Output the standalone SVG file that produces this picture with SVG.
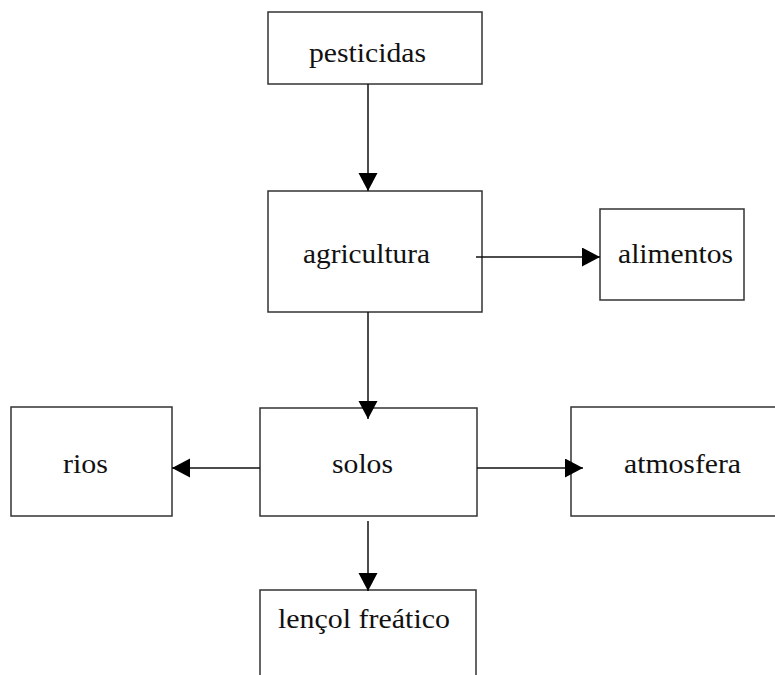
<svg xmlns="http://www.w3.org/2000/svg" width="775" height="675" viewBox="0 0 775 675">
  <style>
    .box { fill: #ffffff; stroke: #333333; stroke-width: 1.5; }
    .lbl { font-family: "Liberation Serif", "Times New Roman", serif; font-size: 28px; fill: #111111; }
    .edge { stroke: #111111; stroke-width: 1.5; fill: none; marker-end: url(#head); }
  </style>
  <defs>
    <marker id="head" markerUnits="userSpaceOnUse" markerWidth="19" markerHeight="20" refX="18" refY="9.5" orient="auto">
      <path d="M0,0 L18,9.5 L0,19 z" fill="#000000"/>
    </marker>
  </defs>
  <rect width="775" height="675" fill="#ffffff"/>

  <g id="pesticidas">
    <rect class="box" x="268" y="12" width="214" height="72"/>
    <text class="lbl" x="309" y="62" textLength="117" lengthAdjust="spacingAndGlyphs">pesticidas</text>
  </g>
  <g id="agricultura">
    <rect class="box" x="268" y="191" width="214" height="121"/>
    <text class="lbl" x="303" y="263" textLength="127" lengthAdjust="spacingAndGlyphs">agricultura</text>
  </g>
  <g id="alimentos">
    <rect class="box" x="600" y="209" width="144" height="91"/>
    <text class="lbl" x="618" y="263" textLength="115" lengthAdjust="spacingAndGlyphs">alimentos</text>
  </g>
  <g id="rios">
    <rect class="box" x="11" y="407" width="161" height="109"/>
    <text class="lbl" x="63" y="473" textLength="45" lengthAdjust="spacingAndGlyphs">rios</text>
  </g>
  <g id="solos">
    <rect class="box" x="260" y="408" width="217" height="108"/>
    <text class="lbl" x="332" y="473" textLength="61" lengthAdjust="spacingAndGlyphs">solos</text>
  </g>
  <g id="atmosfera">
    <rect class="box" x="571" y="407" width="220" height="109"/>
    <text class="lbl" x="624" y="473" textLength="117" lengthAdjust="spacingAndGlyphs">atmosfera</text>
  </g>
  <g id="lencol-freatico">
    <rect class="box" x="260" y="590" width="216" height="110"/>
    <text class="lbl" x="278" y="628" textLength="172" lengthAdjust="spacingAndGlyphs">lençol freático</text>
  </g>

  <g id="connectors">
    <line class="edge" x1="368" y1="84" x2="368" y2="191"/>
    <line class="edge" x1="368" y1="312" x2="368" y2="419"/>
    <line class="edge" x1="476" y1="257" x2="600" y2="257"/>
    <line class="edge" x1="260" y1="468" x2="172" y2="468"/>
    <line class="edge" x1="477" y1="468" x2="583" y2="468"/>
    <line class="edge" x1="368" y1="521" x2="368" y2="591"/>
  </g>
</svg>
